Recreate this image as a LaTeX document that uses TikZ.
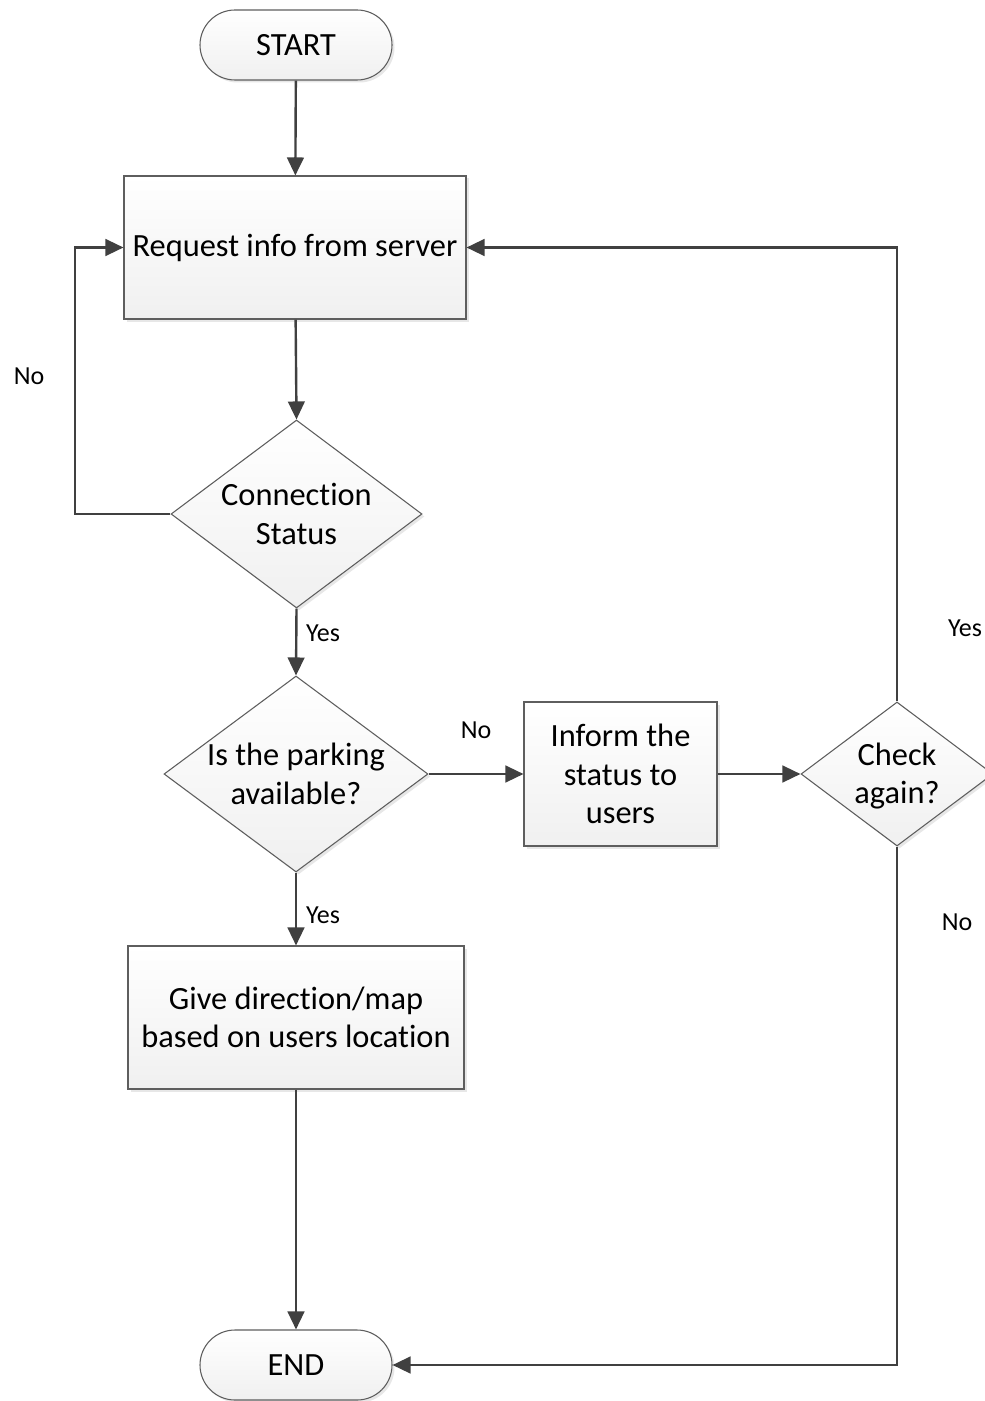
\documentclass[tikz,border=0pt]{standalone}
\usepackage{fontspec}
\setmainfont[Ligatures=NoCommon]{Carlito}
\usetikzlibrary{shapes.geometric,shapes.misc,arrows.meta,shadows}
\newdimen\pxu \pxu=0.75pt
\definecolor{linegray}{HTML}{404040}
\definecolor{edgegray}{HTML}{5E5E5E}
\definecolor{fillbottom}{HTML}{F0F0F0}
\tikzset{
  shape base/.style={draw=edgegray, line width=0.8pt, top color=white, bottom color=fillbottom,
    drop shadow={shadow xshift=2.5\pxu, shadow yshift=-2.5\pxu, fill=black!30, opacity=0.3},
    inner sep=0pt, align=center, font=\fontsize{24.3}{28.8}\selectfont},
  terminal/.style={shape base, rounded rectangle, minimum width=192\pxu, minimum height=70\pxu},
  process/.style={shape base, rectangle},
  decision/.style={shape base, diamond},
  decision text/.style={align=center, font=\fontsize{24.3}{28.8}\selectfont, inner sep=0pt},
  flow/.style={draw=linegray, line width=1.8pt, -{Triangle[length=13.5pt, width=12.5pt]}},
  edgelabel/.style={font=\fontsize{19.5}{23}\selectfont, inner sep=0pt},
}
\begin{document}
\begin{tikzpicture}[x=0.75pt, y=-0.75pt]
  \useasboundingbox[fill=white] (0,0) rectangle (984,1401);

  % terminals and process boxes
  \node[terminal] (start) at (296,45) {START};
  \node[process, minimum width=342\pxu, minimum height=143\pxu] (req) at (295,247.5) {Request info from server};
  \node[process, minimum width=193\pxu, minimum height=144\pxu] (inform) at (620.5,774) {Inform the\\status to\\users};
  \node[process, minimum width=336\pxu, minimum height=143\pxu] (give) at (296,1017.5) {Give direction/map\\based on users location};
  \node[terminal] (end) at (296,1365) {END};

  % decisions: diamond outline, text set on top
  \node[decision, minimum width=251\pxu, minimum height=188\pxu] (conn) at (296.5,514) {};
  \node[decision text] (conntext) at (296.5,514) {Connection\\Status};
  \node[decision, minimum width=264\pxu, minimum height=196\pxu] (park) at (296,774) {};
  \node[decision text] (parktext) at (296,774) {Is the parking\\available?};
  \node[decision, minimum width=192\pxu, minimum height=144\pxu] (check) at (897,774) {};
  \node[decision text] (checktext) at (897,776) {Check\\again?};

  % connector turning points
  \coordinate (loopleft) at (75,514);
  \coordinate (looptop) at (75,247.5);
  \coordinate (rightup) at (897,247.5);
  \coordinate (rightdown) at (897,1365);

  % connectors
  \draw[flow] (start) -- (req);
  \draw[flow] (req) -- (conn.north);
  \draw[flow] (conn.west) -- (loopleft) -- (looptop) -- (req.west);
  \draw[flow] (conn.south) -- (park.north);
  \draw[flow] (park.east) -- (inform.west);
  \draw[flow] (inform.east) -- (check.west);
  \draw[flow] (check.north) -- (rightup) -- (req.east);
  \draw[flow] (check.south) -- (rightdown) -- (end.east);
  \draw[flow] (park.south) -- (give.north);
  \draw[flow] (give.south) -- (end.north);

  % branch labels
  \node[edgelabel] (lno1) at (29,376) {No};
  \node[edgelabel] (lyes1) at (323,633) {Yes};
  \node[edgelabel] (lno2) at (476,730) {No};
  \node[edgelabel] (lyes2) at (323,915) {Yes};
  \node[edgelabel] (lyes3) at (965,628) {Yes};
  \node[edgelabel] (lno3) at (957,922) {No};
\end{tikzpicture}
\end{document}
